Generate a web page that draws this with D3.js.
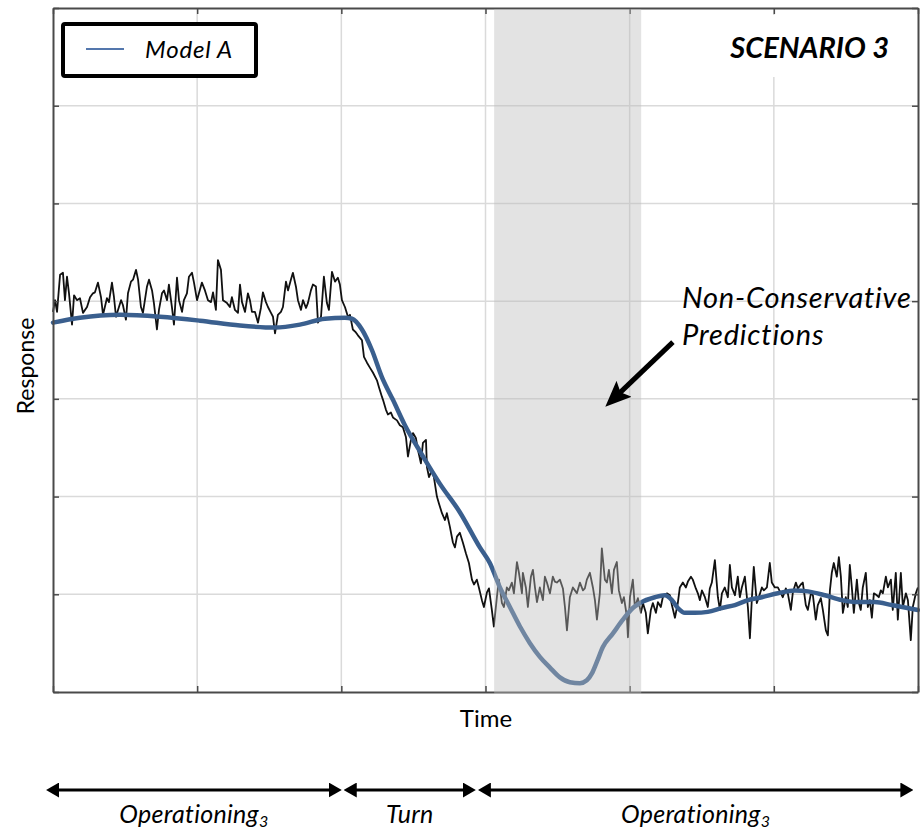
<!DOCTYPE html>
<html>
<head>
<meta charset="utf-8">
<script src="https://cdn.jsdelivr.net/npm/d3@7"></script>
<style>
  body { margin: 0; background: #fff; }
  svg { display: block; }
  text { font-family: Lato, "Open Sans", sans-serif; fill: #000; }
</style>
</head>
<body>
<svg id="chart" width="920" height="833"></svg>
<script>
// ---- data (time in s, response in arbitrary units) ----
const timeTicks = [0, 10, 20, 30, 40, 50, 60];
const responseTicks = [0, 10, 20, 30, 40, 50, 60, 70];

const measuredOp1 = [
  [0,38.9],[0.14,40.1],[0.28,38.9],[0.49,42.7],[0.69,42.9],[0.83,40.1],[0.97,42.5],[1.11,40.8],
  [1.32,37.6],[1.46,40.6],[1.66,40.1],[1.87,40.3],[2.08,38.8],[2.36,39.4],[2.57,40.4],[2.77,40.8],
  [2.91,40.9],[3.12,41.9],[3.33,40.4],[3.47,38.6],[3.74,40.3],[3.88,39.9],[4.09,41.9],[4.23,40.4],
  [4.37,38.4],[4.51,39.1],[4.72,40.1],[4.85,39.6],[5.06,38.1],[5.20,40.8],[5.41,42.0],[5.55,42.2],
  [5.76,43.2],[5.90,42.2],[6.10,39.4],[6.24,38.8],[6.52,41.5],[6.66,42.2],[6.87,41.1],[7.00,39.8],
  [7.21,37.1],[7.35,39.1],[7.56,40.8],[7.70,41.1],[7.91,40.1],[8.04,41.7],[8.25,39.4],[8.39,37.6],
  [8.60,42.4],[8.74,40.1],[8.95,38.9],[9.08,40.1],[9.29,40.8],[9.43,42.5],[9.64,42.9],[9.78,41.9],
  [9.99,40.1],[10.33,41.9],[10.54,41.1],[10.75,40.1],[10.96,39.9],[11.10,40.9],[11.30,39.1],[11.44,44.2],
  [11.65,43.2],[11.79,40.1],[12.07,39.8],[12.27,39.4],[12.41,40.4],[12.62,39.1],[12.83,38.8],[12.97,41.7],
  [13.11,39.9],[13.32,38.9],[13.52,40.8],[13.66,40.1],[13.80,38.9],[14.01,38.9],[14.22,37.8],[14.42,39.3],
  [14.56,40.9],[14.77,39.9],[14.91,39.4],[15.12,38.8],[15.26,38.4],[15.40,36.7],[15.60,38.6],[15.81,38.9],
  [15.95,39.4],[16.16,42.0],[16.30,41.1],[16.50,42.2],[16.64,42.9],[16.85,41.5],[16.99,40.1],[17.20,39.1],
  [17.34,40.1],[17.55,39.3],[17.68,39.8],[17.89,41.1],[18.03,41.7],[18.24,41.5],[18.38,37.8],[18.59,38.4],
  [18.79,42.5],[19.00,39.8],[19.14,39.1],[19.35,43.0],[19.56,42.0],[19.76,42.4],[19.90,41.7],[20.04,40.1],
  [20.25,39.4],[20.46,38.4],[20.60,38.6]
];
const measuredTurn = [
  [20.80,37.1],[21.01,36.8],[21.15,36.5],[21.43,36.0],[21.57,34.3],[21.78,33.7],[21.98,33.2],[22.19,32.7],
  [22.47,31.9],[22.61,31.2],[22.82,30.2],[22.89,29.9],[23.09,28.9],[23.23,28.4],[23.44,28.6],[23.58,28.1],
  [23.86,27.8],[24.06,27.3],[24.27,27.1],[24.48,26.1],[24.62,24.1],[24.83,25.8],[24.97,26.5],[25.17,26.0],
  [25.31,24.8],[25.52,23.4],[25.66,25.5],[25.87,25.8],[25.94,23.0],[26.08,22.0],[26.28,22.7],[26.42,22.0],
  [26.63,20.0],[26.77,19.3],[26.98,18.3],[27.19,17.6],[27.32,18.3],[27.53,16.9],[27.74,15.3],[27.88,14.8],
  [28.02,15.9],[28.22,16.3],[28.43,15.3],[28.64,14.2],[28.85,13.2],[29.06,11.5],[29.20,11.0],[29.40,11.5],
  [29.54,10.7],[29.75,9.4],[29.89,8.7],[30.10,10.2],[30.24,10.6],[30.44,8.4],[30.58,6.7],[30.79,9.7],
  [30.93,11.5]
];
const measuredOp2 = [
  [31.14,9.1],[31.28,8.7],[31.48,10.7],[31.62,10.4],[31.83,11.2],[31.97,10.1],[32.18,13.3],[32.32,12.2],
  [32.53,10.1],[32.59,12.2],[32.80,10.7],[32.94,8.7],[33.15,11.8],[33.29,12.5],[33.43,10.7],[33.57,9.2],
  [33.77,10.7],[33.98,9.4],[34.12,11.8],[34.26,11.2],[34.47,10.1],[34.67,11.8],[34.81,11.3],[34.95,11.2],
  [35.16,11.5],[35.37,10.6],[35.51,8.7],[35.65,6.3],[35.85,9.7],[36.06,10.7],[36.20,10.4],[36.34,10.1],
  [36.55,11.2],[36.76,10.4],[36.89,10.6],[37.03,11.5],[37.24,12.2],[37.45,10.7],[37.59,9.4],[37.73,7.4],
  [37.93,10.1],[38.07,14.7],[38.28,11.5],[38.42,11.2],[38.56,12.5],[38.77,10.1],[38.91,12.5],[39.11,13.3],
  [39.25,10.4],[39.46,9.1],[39.60,9.7],[39.81,7.7],[39.88,5.6],[40.02,9.7],[40.22,11.5],[40.36,8.7],
  [40.57,9.6],[40.78,8.1],[40.92,9.1],[41.12,8.1],[41.26,6.0],[41.47,8.4],[41.61,9.1],[41.82,8.1],
  [41.96,9.2],[42.16,8.7],[42.30,9.7],[42.58,10.1],[42.79,9.9],[42.93,8.9],[43.14,7.6],[43.34,9.1],
  [43.48,10.7],[43.69,11.2],[43.90,10.7],[44.04,11.3],[44.25,11.8],[44.38,11.5],[44.59,10.6],[44.73,10.1],
  [44.87,9.4],[45.01,10.4],[45.22,9.7],[45.42,8.7],[45.56,10.6],[45.70,11.2],[45.91,13.5],[46.12,9.7],
  [46.26,8.4],[46.40,10.1],[46.60,10.7],[46.81,9.7],[46.95,13.0],[47.09,10.7],[47.30,9.9],[47.50,11.8],
  [47.64,9.7],[47.78,10.7],[47.99,11.8],[48.20,8.7],[48.34,5.5],[48.48,9.7],[48.61,12.8],[48.82,9.1],
  [48.96,9.7],[49.17,10.7],[49.31,10.4],[49.52,10.7],[49.72,13.2],[49.86,11.2],[50.07,10.7],[50.28,10.7],
  [50.49,10.1],[50.62,9.7],[50.83,10.6],[50.97,10.1],[51.18,8.4],[51.32,10.2],[51.53,11.2],[51.67,10.6],
  [51.87,11.0],[52.01,11.2],[52.22,8.9],[52.36,8.4],[52.57,10.1],[52.71,9.9],[52.91,7.4],[53.05,8.9],
  [53.26,9.6],[53.40,8.4],[53.61,6.3],[53.75,5.8],[53.89,10.4],[54.02,12.2],[54.16,13.2],[54.37,11.8],
  [54.51,13.8],[54.65,11.8],[54.79,8.1],[54.99,9.7],[55.13,8.7],[55.27,13.0],[55.41,10.7],[55.55,8.1],
  [55.76,11.5],[55.90,9.1],[56.03,8.4],[56.17,10.7],[56.38,12.2],[56.52,8.7],[56.66,9.4],[56.80,7.6],
  [56.94,10.1],[57.14,9.9],[57.28,9.7],[57.42,10.4],[57.56,10.1],[57.77,11.8],[57.91,10.7],[58.12,11.5],
  [58.25,8.4],[58.46,12.2],[58.60,7.4],[58.81,12.2],[58.95,8.7],[59.16,10.1],[59.30,9.4],[59.50,5.3],
  [59.64,8.7],[59.85,10.1],[59.99,10.7]
];

// Model A prediction
const modelA = [
  [0,37.8],[1.87,38.3],[4.65,38.6],[7.42,38.4],[10.19,38.0],[12.97,37.5],[15.40,37.3],[17.13,37.6],
  [18.86,38.2],[20.25,38.3],[20.74,38.2],[21.43,37.1],[22.12,35.0],[22.82,32.2],[23.58,29.9],[24.41,27.3],
  [25.59,24.3],[26.84,21.3],[28.22,18.4],[29.61,14.8],[30.30,13.2],[31.00,10.7],[31.69,8.7],[32.39,6.7],
  [33.08,5.0],[33.77,3.6],[34.47,2.5],[35.16,1.5],[35.85,1.0],[36.55,0.9],[37.03,1.2],[37.38,1.9],
  [37.73,3.1],[38.14,4.6],[38.84,6.0],[39.53,7.4],[40.22,8.6],[40.71,9.1],[41.75,9.7],[42.44,9.9],
  [42.93,9.4],[43.34,8.6],[43.83,8.1],[44.52,8.1],[45.42,8.2],[46.40,8.6],[47.30,8.9],[48.20,9.4],
  [49.17,9.7],[50.28,10.1],[51.46,10.4],[52.36,10.3],[53.54,9.9],[54.72,9.4],[55.83,9.2],[57.00,9.2],
  [58.18,8.9],[59.99,8.4]
];

// non-conservative window
const shadeWindow = [30.6, 40.8];

// phases shown under the axis
const phaseNames = ["Operationing", "Turn", "Operationing"];
const phaseSubs = ["3", "", "3"];
const phaseBounds = [-0.55, 20.1, 29.4, 59.75];

// ---- chart ----
const svg = d3.select("#chart");
const margin = { left: 53, right: 918, top: 8, bottom: 692 };

const x = d3.scaleLinear().domain([0, 60]).range([margin.left, margin.right]);
const y = d3.scaleLinear().domain([0, 70]).range([margin.bottom, margin.top]);

const gridColor = "#dadada";
const axisColor = "#4a4a4a";

// grid
svg.append("g").selectAll("line")
  .data(timeTicks.slice(1, -1))
  .join("line")
  .attr("x1", d => x(d)).attr("x2", d => x(d))
  .attr("y1", y(0)).attr("y2", y(70))
  .attr("stroke", gridColor).attr("stroke-width", 1.5);

svg.append("g").selectAll("line")
  .data(responseTicks.slice(1, -1))
  .join("line")
  .attr("x1", x(0)).attr("x2", x(60))
  .attr("y1", d => y(d)).attr("y2", d => y(d))
  .attr("stroke", gridColor).attr("stroke-width", 1.5);

// white box behind title
svg.append("rect")
  .attr("x", 712).attr("y", 15).attr("width", 195).attr("height", 62)
  .attr("fill", "#fff");

// lines
const line = d3.line().x(d => x(d[0])).y(d => y(d[1]));

svg.append("path")
  .datum(measuredOp1.concat(measuredTurn, measuredOp2))
  .attr("d", line)
  .attr("fill", "none")
  .attr("stroke", "#111")
  .attr("stroke-width", 1.8)
  .attr("stroke-linejoin", "round");

svg.append("path")
  .datum(modelA)
  .attr("d", line.curve(d3.curveMonotoneX))
  .attr("fill", "none")
  .attr("stroke", "#3a5f8e")
  .attr("stroke-width", 4.5)
  .attr("stroke-linecap", "round");

// axes, ticks pointing inward
function styleAxis(g) {
  g.select(".domain").attr("stroke", axisColor).attr("stroke-width", 2);
  g.selectAll(".tick line").attr("stroke", axisColor).attr("stroke-width", 1.5);
}
svg.append("g").attr("transform", `translate(0,${margin.bottom})`)
  .call(d3.axisBottom(x).tickValues(timeTicks).tickSize(-6).tickSizeOuter(0).tickFormat(""))
  .call(styleAxis);
svg.append("g").attr("transform", `translate(0,${margin.top})`)
  .call(d3.axisTop(x).tickValues(timeTicks).tickSize(-6).tickSizeOuter(0).tickFormat(""))
  .call(styleAxis);
svg.append("g").attr("transform", `translate(${margin.left},0)`)
  .call(d3.axisLeft(y).tickValues(responseTicks).tickSize(-6).tickSizeOuter(0).tickFormat(""))
  .call(styleAxis);
svg.append("g").attr("transform", `translate(${margin.right},0)`)
  .call(d3.axisRight(y).tickValues(responseTicks).tickSize(-6).tickSizeOuter(0).tickFormat(""))
  .call(styleAxis);

// shaded window (translucent, drawn over the traces)
svg.append("rect")
  .attr("x", x(shadeWindow[0]))
  .attr("width", x(shadeWindow[1]) - x(shadeWindow[0]))
  .attr("y", margin.top + 1)
  .attr("height", margin.bottom - margin.top + 1)
  .attr("fill", "rgb(188,188,188)")
  .attr("fill-opacity", 0.42);

// legend
const legend = svg.append("g");
legend.append("rect")
  .attr("x", 63).attr("y", 24).attr("width", 193).attr("height", 52)
  .attr("rx", 2)
  .attr("fill", "#fff").attr("stroke", "#000").attr("stroke-width", 4);
legend.append("line")
  .attr("x1", 86).attr("x2", 124).attr("y1", 49).attr("y2", 49)
  .attr("stroke", "#5477ad").attr("stroke-width", 2);
legend.append("text")
  .attr("x", 145).attr("y", 58)
  .attr("font-size", 24).attr("letter-spacing", 0.8).attr("font-style", "italic")
  .text("Model A");

// title
svg.append("text")
  .attr("x", 889).attr("y", 58)
  .attr("text-anchor", "end")
  .attr("font-size", 29).attr("font-weight", "bold").attr("font-style", "italic")
  .text("SCENARIO 3");

// annotation
svg.append("defs").html(`
  <marker id="bigHead" markerUnits="userSpaceOnUse" markerWidth="26" markerHeight="22"
          refX="10" refY="11" orient="auto">
    <path d="M0,0 L26,11 L0,22 L5,11 Z" fill="#000"/>
  </marker>
  <marker id="smallHead" markerUnits="userSpaceOnUse" markerWidth="13" markerHeight="15"
          refX="5" refY="7.5" orient="auto-start-reverse">
    <path d="M0,0 L13,7.5 L0,15 Z" fill="#000"/>
  </marker>`);

svg.append("line")
  .attr("x1", x(43.0)).attr("y1", y(35.8))
  .attr("x2", x(38.35) + 11).attr("y2", y(29.2) - 11)
  .attr("stroke", "#000").attr("stroke-width", 5)
  .attr("marker-end", "url(#bigHead)");

const note = svg.append("text")
  .attr("font-size", 29).attr("letter-spacing", 0.8).attr("font-style", "italic");
note.append("tspan").attr("x", 682).attr("y", 308).text("Non-Conservative");
note.append("tspan").attr("x", 682).attr("y", 345).text("Predictions");

// axis titles
svg.append("text")
  .attr("x", 486).attr("y", 727)
  .attr("text-anchor", "middle")
  .attr("font-size", 24)
  .text("Time");

svg.append("text")
  .attr("transform", "translate(34,366) rotate(-90)")
  .attr("text-anchor", "middle")
  .attr("font-size", 23)
  .text("Response");

// phase arrows
const arrowY = 790;
phaseNames.forEach((name, i) => {
  const a = x(phaseBounds[i]) + 1, b = x(phaseBounds[i + 1]) - 1;
  svg.append("line")
    .attr("x1", a + 8).attr("x2", b - 8)
    .attr("y1", arrowY).attr("y2", arrowY)
    .attr("stroke", "#000").attr("stroke-width", 3)
    .attr("marker-start", "url(#smallHead)")
    .attr("marker-end", "url(#smallHead)");
  const t = svg.append("text")
    .attr("x", (a + b) / 2).attr("y", 823)
    .attr("text-anchor", "middle")
    .attr("font-size", 25).attr("letter-spacing", 0.3).attr("font-style", "italic");
  t.append("tspan").text(name);
  if (phaseSubs[i]) t.append("tspan").attr("font-size", 16).attr("dy", 4).text(phaseSubs[i]);
});
</script>
</body>
</html>
